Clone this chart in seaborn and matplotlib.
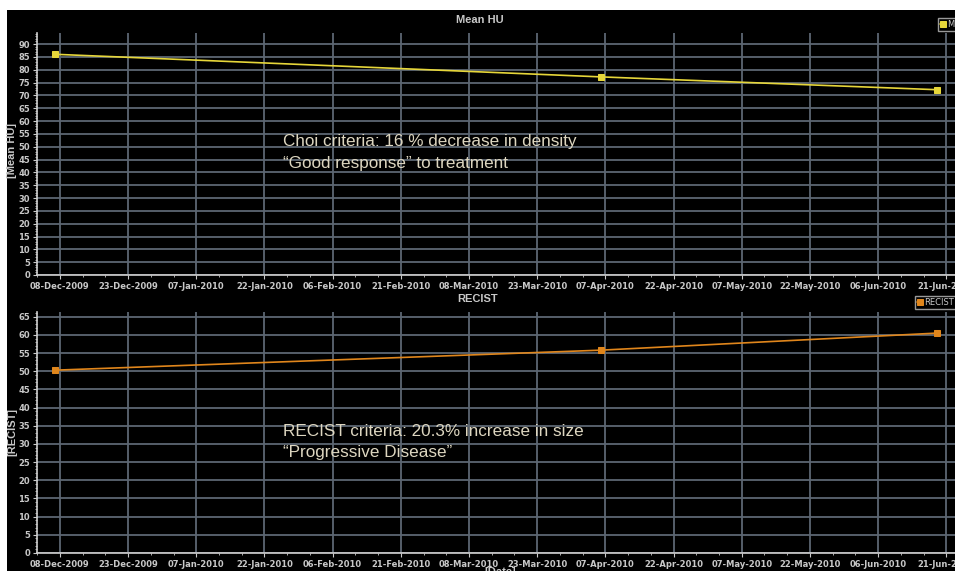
import matplotlib
matplotlib.use("Agg")
import matplotlib.pyplot as plt
import matplotlib.dates as mdates
from matplotlib.patches import Rectangle
import seaborn as sns
import pandas as pd
import numpy as np

# ---- data ----
dates = ["2009-12-07", "2010-04-06", "2010-06-19"]
mean_hu = [86.0, 77.2, 72.2]
recist = [50.3, 55.8, 60.5]
tick_start = "2009-12-08"
annot_top = ["Choi criteria: 16 % decrease in density", "\u201cGood response\u201d to treatment"]
annot_bot = ["RECIST criteria: 20.3% increase in size", "\u201cProgressive Disease\u201d"]

sns.set_theme(style="dark")
plt.rcParams['font.family'] = ['Liberation Sans', 'DejaVu Sans']

df = pd.DataFrame({"date": pd.to_datetime(dates), "Mean HU": mean_hu, "RECIST": recist})

W, H = 955, 571
fig = plt.figure(figsize=(W / 100, H / 100), dpi=100, facecolor="white")
fig.patches.append(Rectangle((7 / W, 0), 1, 1 - 10 / H, transform=fig.transFigure,
                             facecolor="black", edgecolor="none", zorder=-10))

def fy(py):
    return 1 - py / H

ax1 = fig.add_axes([37 / W, fy(275), 918 / W, (275 - 33) / H])
ax2 = fig.add_axes([37 / W, fy(553), 918 / W, (553 - 312) / H])

grid_c = "#5c6773"
tick_c = "#c8c8c8"
narrow = ['Liberation Sans Narrow', 'DejaVu Sans']

x0 = mdates.date2num(pd.Timestamp("2009-12-02 23:00"))
x1 = mdates.date2num(pd.Timestamp("2010-06-22 22:00"))

def style(ax, ymax, ytop):
    ax.set_facecolor("black")
    ax.set_yticks(np.arange(0, ymax + 1, 5))
    ax.yaxis.set_minor_locator(matplotlib.ticker.MultipleLocator(1))
    ticks = pd.date_range(tick_start, periods=14, freq="15D")
    ax.set_xticks(mdates.date2num(ticks))
    ax.set_xticks(mdates.date2num(pd.date_range("2009-12-03", periods=40, freq="5D")), minor=True)
    ax.xaxis.set_major_formatter(mdates.DateFormatter("%d-%b-%Y"))
    ax.set_xlim(x0, x1)
    ax.set_ylim(0, ytop)
    ax.grid(True, which="major", color=grid_c, linewidth=1.3)
    ax.grid(False, which="minor")
    for s in ["top", "right"]:
        ax.spines[s].set_visible(False)
    for s in ["left", "bottom"]:
        ax.spines[s].set_visible(True)
        ax.spines[s].set_color("#d0d0d0")
        ax.spines[s].set_linewidth(1.2)
    ax.tick_params(axis="both", which="major", colors=tick_c, labelsize=6, length=3, width=0.8,
                   pad=2, left=True, bottom=True)
    ax.tick_params(axis="both", which="minor", colors=tick_c, length=1.5, width=0.6,
                   left=True, bottom=True)
    for lab in ax.get_xticklabels() + ax.get_yticklabels():
        lab.set_family(narrow)
        lab.set_fontweight("bold")
    ax.set_xlabel("")
    ax.set_ylabel("")

sns.lineplot(data=df, x="date", y="Mean HU", ax=ax1, color="#e6d63a", marker="s",
             markersize=5, markeredgecolor="#e6d63a", linewidth=1.2, label="Mean HU")
sns.lineplot(data=df, x="date", y="RECIST", ax=ax2, color="#e0861c", marker="s",
             markersize=5, markeredgecolor="#e0861c", linewidth=1.2, label="RECIST")
ax1.get_legend().remove()
ax2.get_legend().remove()

style(ax1, 90, 94.3)
style(ax2, 65, 66.3)

# legends (clipped at figure edge)
for ax, (lx, ly) in [(ax1, (938, 31)), (ax2, (915, 309))]:
    h, l = ax.get_legend_handles_labels()
    leg = fig.legend(h, l, loc="lower left", bbox_to_anchor=(lx / W, fy(ly)),
                     bbox_transform=fig.transFigure, fontsize=6, frameon=True,
                     handlelength=0.6, handletextpad=0.3, borderpad=0.25,
                     borderaxespad=0, markerscale=0.8)
    leg.get_frame().set_facecolor("black")
    leg.get_frame().set_edgecolor("#c0c0c0")
    leg.get_frame().set_linewidth(1.0)
    leg.get_frame().set_boxstyle("square", pad=0)
    for t in leg.get_texts():
        t.set_color("#c8c8c8")
        t.set_family(narrow)

# titles
fig.text(480 / W, fy(20), "Mean HU", ha="center", va="center", color="#c8c8c8",
         fontsize=8, fontweight="bold")
fig.text(478 / W, fy(299), "RECIST", ha="center", va="center", color="#c8c8c8",
         fontsize=8, fontweight="bold")
fig.text(12 / W, fy(150), "[Mean HU]", ha="center", va="center", rotation=90,
         color="#c8c8c8", fontsize=8, fontweight="bold")
fig.text(12 / W, fy(432), "[RECIST]", ha="center", va="center", rotation=90,
         color="#c8c8c8", fontsize=8, fontweight="bold")
fig.text(500 / W, fy(567), "[Date]", ha="center", va="top", color="#c8c8c8",
         fontsize=8, fontweight="bold")

# annotations
txt_c = "#ddd6c0"
fs = 12.3
fig.text(283 / W, fy(142), annot_top[0], ha="left", va="center", color=txt_c, fontsize=fs)
fig.text(283 / W, fy(163), annot_top[1], ha="left", va="center", color=txt_c, fontsize=fs)
fig.text(283 / W, fy(431), annot_bot[0], ha="left", va="center", color=txt_c, fontsize=fs)
fig.text(283 / W, fy(453), annot_bot[1], ha="left", va="center", color=txt_c, fontsize=fs)

fig.savefig("out.png", dpi=100, facecolor="white")
